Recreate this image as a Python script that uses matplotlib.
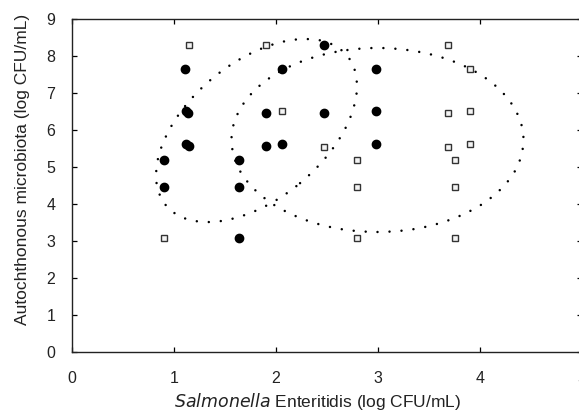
import matplotlib
matplotlib.use("Agg")
import matplotlib.pyplot as plt
from matplotlib.patches import Ellipse
from matplotlib.transforms import ScaledTranslation

plt.rcParams['font.family'] = ['Liberation Sans', 'DejaVu Sans']

# Filled circles
circle_x = [1.11, 1.12, 1.14, 1.12, 1.15, 0.90, 0.90, 1.64, 1.64, 1.64,
            1.905, 1.905, 2.06, 2.06, 2.47, 2.47, 2.98, 2.98, 2.98]
circle_y = [7.64, 6.51, 6.46, 5.62, 5.57, 5.19, 4.47, 5.19, 4.47, 3.09,
            6.45, 5.57, 5.61, 7.64, 8.30, 6.45, 7.64, 6.52, 5.62]

# Open squares
square_x = [1.15, 1.905, 2.06, 0.90, 2.47, 2.79, 2.79, 2.79, 3.69, 3.90,
            3.69, 3.90, 3.69, 3.90, 3.75, 3.75, 3.75]
square_y = [8.30, 8.30, 6.52, 3.09, 5.55, 5.19, 4.47, 3.09, 8.30, 7.64,
            6.45, 6.52, 5.55, 5.62, 5.19, 4.47, 3.09]

x_ticks = [0, 1, 2, 3, 4, 5]
y_ticks = [0, 1, 2, 3, 4, 5, 6, 7, 8, 9]

# Ellipses: centre (data), width/height (inches), angle (deg)
ellipse_centers = [(1.809, 5.986), (2.995, 5.73)]
ellipse_sizes = [(2.35, 1.366), (2.92, 1.84)]
ellipse_angles = [39.6, 0.0]

W, H = 579, 411
fig = plt.figure(figsize=(W / 100, H / 100), dpi=100)
ax = fig.add_axes([72 / W, (H - 352) / H, 510 / W, 333 / H])

ax.plot(circle_x, circle_y, linestyle='none', marker='o', markersize=6.0,
        markerfacecolor='black', markeredgecolor='black', zorder=3)
ax.plot(square_x, square_y, linestyle='none', marker='s', markersize=5.0,
        markerfacecolor='#f4f4f4', markeredgecolor='#333333',
        markeredgewidth=1.0, zorder=3)

for (cx, cy), (w, h), ang in zip(ellipse_centers, ellipse_sizes, ellipse_angles):
    tr = fig.dpi_scale_trans + ScaledTranslation(cx, cy, ax.transData)
    e = Ellipse((0, 0), w, h, angle=ang, transform=tr, fill=False,
                edgecolor='black', linewidth=1.8,
                linestyle=(0, (0.01, 4.8)), capstyle='round', zorder=2)
    ax.add_patch(e)

ax.set_xlim(0, 5)
ax.set_ylim(0, 9)
ax.set_xticks(x_ticks)
ax.set_yticks(y_ticks)
ax.tick_params(direction='in', length=3.5, width=0.9, labelsize=11.5,
               top=True, right=True, colors='black',
               labelcolor='#222222')
ax.tick_params(axis='x', pad=13.5)
ax.tick_params(axis='y', pad=12)
for sp in ax.spines.values():
    sp.set_linewidth(1.0)
    sp.set_color('#222222')

fig.text(318 / W, (H - 407) / H,
         r'$\it{Salmonella}$ Enteritidis (log CFU/mL)',
         ha='center', va='baseline', fontsize=12.5, color='#222222')
fig.text(27 / W, (H - 169) / H, 'Autochthonous microbiota (log CFU/mL)',
         rotation=90, rotation_mode='anchor', ha='center', va='baseline',
         fontsize=12.5, color='#222222')

fig.savefig('out.png', dpi=100)
